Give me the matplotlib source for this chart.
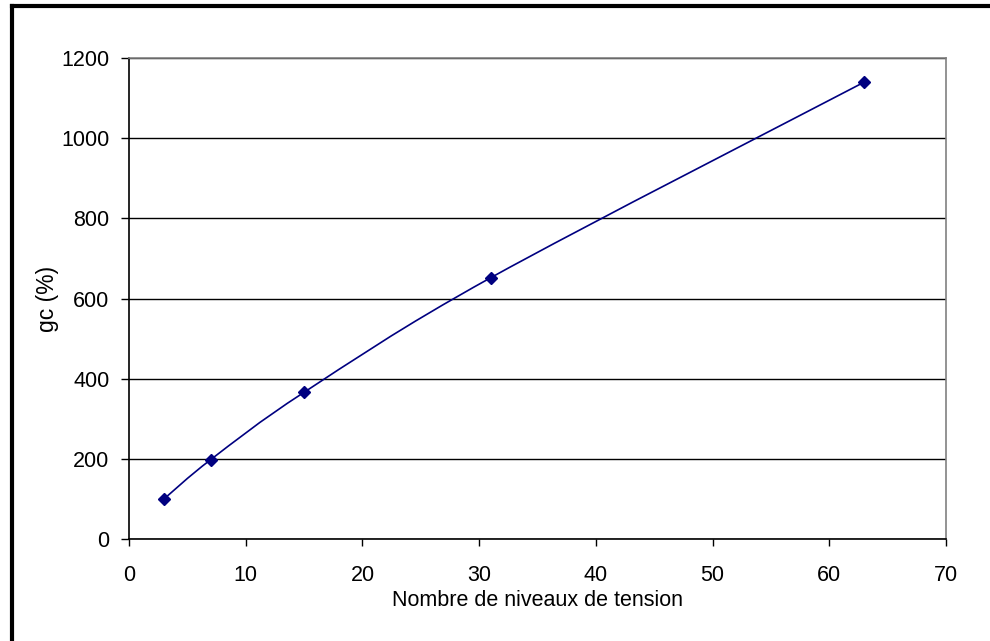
import matplotlib.pyplot as plt
import numpy as np
from matplotlib.path import Path
from matplotlib.patches import PathPatch
from matplotlib.lines import Line2D

plt.rcParams['font.family'] = ['Liberation Sans', 'DejaVu Sans']

# data
niveaux = [3, 7, 15, 31, 63]
gc = [100, 198, 366, 652, 1140]

navy = '#000080'

fig = plt.figure(figsize=(9.9, 6.41), dpi=100)
ax = fig.add_axes([0.1303, 0.1591, 0.8253, 0.7504])

# Excel-style smoothed line (cubic Bezier through the points)
x = np.array(niveaux, dtype=float)
y = np.array(gc, dtype=float)
px = np.concatenate([[x[0]], x, [x[-1]]])
py = np.concatenate([[y[0]], y, [y[-1]]])
verts = [(x[0], y[0])]
codes = [Path.MOVETO]
for i in range(1, len(x)):
    c1 = (px[i] + (px[i + 1] - px[i - 1]) / 6, py[i] + (py[i + 1] - py[i - 1]) / 6)
    c2 = (px[i + 1] - (px[i + 2] - px[i]) / 6, py[i + 1] - (py[i + 2] - py[i]) / 6)
    verts += [c1, c2, (x[i], y[i])]
    codes += [Path.CURVE4] * 3
ax.add_patch(PathPatch(Path(verts, codes), facecolor='none', edgecolor=navy, lw=1.2, zorder=3))
ax.plot(niveaux, gc, linestyle='none', marker='D', markersize=6, color=navy, zorder=4)

ax.set_xlim(0, 70)
ax.set_ylim(0, 1200)
ax.set_xticks(range(0, 71, 10))
ax.set_yticks(range(0, 1201, 200))
ax.yaxis.grid(True, color='black', lw=1)
ax.set_axisbelow(True)

for side in ['top', 'right']:
    ax.spines[side].set_color('#808080')
    ax.spines[side].set_linewidth(1.2)
for side in ['left', 'bottom']:
    ax.spines[side].set_color('black')
    ax.spines[side].set_linewidth(1.2)

ax.tick_params(axis='x', direction='out', length=5, width=1, labelsize=15.5, pad=13.5)
ax.tick_params(axis='y', direction='out', length=6, width=1, labelsize=15.5, pad=8)
ax.set_xlabel('Nombre de niveaux de tension', fontsize=15.5, labelpad=3)
ax.set_ylabel('gc (%)', fontsize=16.5, labelpad=1.5)

# outer chart border (only left and top visible)
fig.add_artist(Line2D([12 / 990, 12 / 990], [0, 1 - 5.5 / 641], transform=fig.transFigure, color='black', lw=3))
fig.add_artist(Line2D([12 / 990, 1], [1 - 5.5 / 641, 1 - 5.5 / 641], transform=fig.transFigure, color='black', lw=3))

fig.savefig('out.png', dpi=100)
